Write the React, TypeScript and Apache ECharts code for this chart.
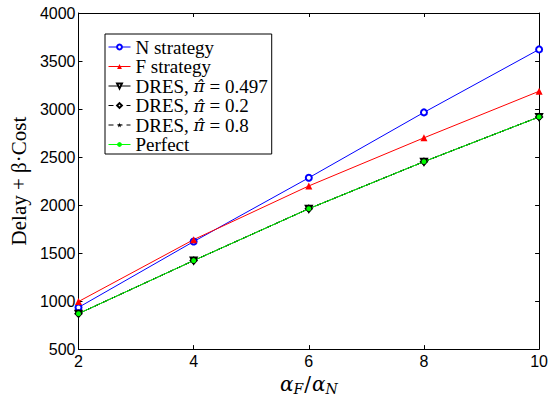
import React, { useEffect, useRef } from "react";
import * as echarts from "echarts";

const xValues = [2, 4, 6, 8, 10];
const nStrategy = [934, 1620, 2284, 2965, 3621];
const fStrategy = [995, 1640, 2199, 2700, 3185];
const dres0497 = [869, 1422, 1962, 2452, 2918];
const dres02 = [869, 1422, 1962, 2452, 2918];
const dres08 = [869, 1422, 1962, 2452, 2918];
const perfect = [869, 1422, 1962, 2452, 2918];

const seriesNames = [
  "N strategy",
  "F strategy",
  "DRES, π̂ = 0.497",
  "DRES, π̂ = 0.2",
  "DRES, π̂ = 0.8",
  "Perfect",
];

const STAR = "path://M50,0 L61,35 L98,35 L68,57 L79,91 L50,70 L21,91 L32,57 L2,35 L39,35 Z";

const pair = (ys: number[]) => xValues.map((x, i) => [x, ys[i]]);

export default function App() {
  const ref = useRef<HTMLDivElement>(null);
  useEffect(() => {
    if (!ref.current) return;
    const chart = echarts.init(ref.current, undefined, { renderer: "svg" });
    const sans = "Liberation Sans";
    const serif = "Liberation Serif";
    const math = "DejaVu Serif";
    const axisLine = { show: true, lineStyle: { color: "#000", width: 1 } };
    const tickIn = { show: true, inside: true, length: 4, lineStyle: { color: "#000", width: 1 } };
    chart.setOption({
      animation: false,
      backgroundColor: "#fff",
      grid: { left: 72, right: 11, top: 13, bottom: 46 },
      xAxis: [
        {
          type: "value",
          min: 2,
          max: 10,
          interval: 2,
          axisLine,
          axisTick: tickIn,
          splitLine: { show: false },
          axisLabel: { color: "#000", fontFamily: sans, fontSize: 16, margin: 4 },
          name: "{a|α}{s|F}{b|/}{a|α}{s|N}",
          nameLocation: "middle",
          nameGap: 14,
          nameTextStyle: {
            rich: {
              a: { fontFamily: math, fontStyle: "italic", fontSize: 20, color: "#000", lineHeight: 24, verticalAlign: "middle" },
              b: { fontFamily: math, fontSize: 20, color: "#000", lineHeight: 24, verticalAlign: "middle", padding: [0, 1, 0, 1] },
              s: { fontFamily: math, fontStyle: "italic", fontSize: 14, color: "#000", lineHeight: 12, verticalAlign: "bottom" },
            },
          },
        },
        {
          type: "value",
          position: "top",
          min: 2,
          max: 10,
          interval: 2,
          axisLine,
          axisTick: tickIn,
          axisLabel: { show: false },
          splitLine: { show: false },
        },
      ],
      yAxis: [
        {
          type: "value",
          min: 500,
          max: 4000,
          interval: 500,
          axisLine,
          axisTick: tickIn,
          splitLine: { show: false },
          axisLabel: {
            color: "#000",
            fontFamily: sans,
            fontSize: 16,
            margin: 3,
            formatter: (v: number) => String(v),
          },
          name: "Delay + β·Cost",
          nameLocation: "middle",
          nameGap: 44,
          nameTextStyle: { fontFamily: serif, fontSize: 21, color: "#000" },
        },
        {
          type: "value",
          position: "right",
          min: 500,
          max: 4000,
          interval: 500,
          axisLine,
          axisTick: tickIn,
          axisLabel: { show: false },
          splitLine: { show: false },
        },
      ],
      legend: {
        orient: "vertical",
        left: 105,
        top: 34,
        data: seriesNames,
        backgroundColor: "#fff",
        borderColor: "#000",
        borderWidth: 1,
        borderRadius: 0,
        padding: [3.5, 4, 0, 3],
        itemWidth: 22,
        itemHeight: 6,
        itemGap: 0.5,
        lineStyle: { width: 1 },
        formatter: (name: string) => name.replace("π̂", "{i|π̂}"),
        textStyle: {
          fontFamily: serif,
          fontSize: 19,
          lineHeight: 19,
          color: "#000",
          rich: {
            i: { fontFamily: math, fontStyle: "italic", fontSize: 17, lineHeight: 19, color: "#000" },
          },
        },
      },
      series: [
        {
          name: seriesNames[0],
          type: "line",
          data: pair(nStrategy),
          symbol: "emptyCircle",
          symbolSize: 6,
          lineStyle: { color: "#0000ff", width: 1 },
          itemStyle: { color: "#0000ff", borderColor: "#0000ff", borderWidth: 1 },
        },
        {
          name: seriesNames[1],
          type: "line",
          data: pair(fStrategy),
          symbol: "triangle",
          symbolSize: 7,
          lineStyle: { color: "#ff0000", width: 1 },
          itemStyle: { color: "#ff0000" },
        },
        {
          name: seriesNames[2],
          type: "line",
          data: pair(dres0497),
          symbol: "emptyTriangle",
          symbolRotate: 180,
          symbolSize: 6,
          lineStyle: { color: "#000", width: 1 },
          itemStyle: { color: "#000", borderColor: "#000", borderWidth: 1 },
        },
        {
          name: seriesNames[3],
          type: "line",
          data: pair(dres02),
          symbol: "emptyDiamond",
          symbolSize: 6,
          lineStyle: { color: "#000", width: 1, type: [5, 4] },
          itemStyle: { color: "#000", borderColor: "#000", borderWidth: 1 },
        },
        {
          name: seriesNames[4],
          type: "line",
          data: pair(dres08),
          symbol: STAR,
          symbolSize: 6,
          lineStyle: { color: "#000", width: 1, type: [5, 4] },
          itemStyle: { color: "#000" },
        },
        {
          name: seriesNames[5],
          type: "line",
          data: pair(perfect),
          symbol: "circle",
          symbolSize: 5,
          lineStyle: { color: "#00ff00", width: 1 },
          itemStyle: { color: "#00ff00" },
        },
      ],
    });
    return () => chart.dispose();
  }, []);
  return <div ref={ref} style={{ width: 551, height: 401, position: "fixed", left: 0, top: 0 }} />;
}
